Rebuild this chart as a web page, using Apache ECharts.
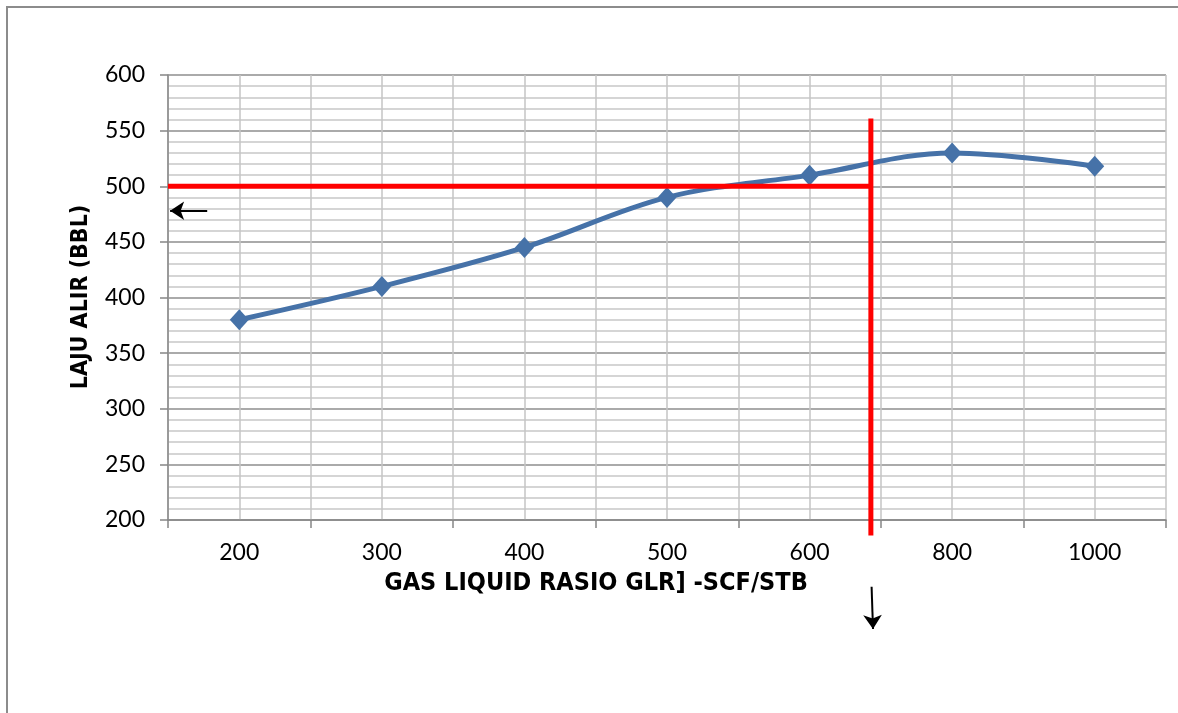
<!DOCTYPE html>
<html>
<head>
<meta charset="utf-8">
<script src="https://cdn.jsdelivr.net/npm/echarts@6/dist/echarts.min.js"></script>
<style>
  html, body { margin: 0; padding: 0; background: #fff; }
  #chart { width: 1178px; height: 713px; }
</style>
</head>
<body>
<div id="chart"></div>
<script>
// Gas liquid ratio (SCF/STB) categories and flow rate (BBL)
const glrCategories = ['200', '300', '400', '500', '600', '800', '1000'];
const flowRates = [380, 410, 445, 490, 510, 530, 518];

// Reading guides, in half-category units along x and BBL along y
const guideRate = 500;
const guideGlrPos = 9.86;
const guideHorizontal = [[0, guideRate], [guideGlrPos + 0.02, guideRate]];
const guideVertical = [[guideGlrPos, 561], [guideGlrPos, 186]];
const arrowLeft = [[0.55, 478], [0.03, 478]];
const arrowDown = [[guideGlrPos + 0.01, 140], [guideGlrPos + 0.03, 102]];

const axisFont = 'Lato, "Noto Sans", sans-serif';
const titleFont = '"DejaVu Sans Condensed", "DejaVu Sans", sans-serif';

const chart = echarts.init(document.getElementById('chart'), null, { renderer: 'canvas' });

chart.setOption({
  animation: false,
  backgroundColor: '#ffffff',
  grid: { left: 168, top: 75, right: 12, bottom: 193, containLabel: false },
  xAxis: [
    {
      type: 'category',
      data: glrCategories,
      boundaryGap: true,
      axisLine: { lineStyle: { color: '#878787', width: 1.5 } },
      axisTick: { show: true, length: 8, lineStyle: { color: '#878787', width: 1.5 } },
      axisLabel: { color: '#000', fontSize: 23, fontFamily: axisFont, margin: 21 },
      splitLine: { show: false }
    },
    {
      type: 'value',
      min: 0, max: 14, interval: 1,
      position: 'bottom',
      axisLine: { show: false },
      axisTick: { show: false },
      axisLabel: { show: false },
      splitLine: { show: true, lineStyle: { color: '#c4c4c4', width: 1.5 } }
    }
  ],
  yAxis: {
    type: 'value',
    min: 200, max: 600, interval: 50,
    axisLine: { show: true, lineStyle: { color: '#878787', width: 1.5 } },
    axisTick: { show: true, length: 8, lineStyle: { color: '#878787', width: 1.5 } },
    axisLabel: { color: '#000', fontSize: 23, fontFamily: axisFont, margin: 23 },
    splitLine: { show: true, lineStyle: { color: '#8e8e8e', width: 1.5 } },
    minorTick: { show: false, splitNumber: 5 },
    minorSplitLine: { show: true, lineStyle: { color: '#c8c8c8', width: 1.5 } }
  },
  graphic: [
    {
      type: 'rect',
      shape: { x: 7, y: 7, width: 1240, height: 800 },
      style: { fill: 'none', stroke: '#8c8c8c', lineWidth: 2 },
      silent: true
    },
    {
      type: 'text',
      x: 596, y: 583,
      style: {
        text: 'GAS LIQUID RASIO GLR] -SCF/STB',
        fill: '#000',
        align: 'center',
        verticalAlign: 'middle',
        font: 'bold 25px ' + titleFont
      }
    },
    {
      type: 'text',
      x: 81, y: 297,
      rotation: Math.PI / 2,
      style: {
        text: 'LAJU ALIR (BBL)',
        fill: '#000',
        align: 'center',
        verticalAlign: 'middle',
        font: 'bold 23px ' + titleFont
      }
    }
  ],
  series: [
    {
      name: 'Laju Alir',
      type: 'line',
      xAxisIndex: 0,
      data: flowRates,
      smooth: 0.35,
      symbol: 'diamond',
      symbolSize: [19, 21],
      lineStyle: { color: '#4672a8', width: 5 },
      itemStyle: { color: '#4672a8' },
      z: 3
    },
    {
      type: 'line',
      xAxisIndex: 1,
      data: guideHorizontal,
      symbol: 'none',
      clip: false,
      lineStyle: { color: '#ff0000', width: 5 },
      z: 4
    },
    {
      type: 'line',
      xAxisIndex: 1,
      data: guideVertical,
      symbol: 'none',
      clip: false,
      lineStyle: { color: '#ff0000', width: 5 },
      z: 4
    },
    {
      type: 'lines',
      coordinateSystem: 'cartesian2d',
      xAxisIndex: 1,
      clip: false,
      symbol: ['none', 'arrow'],
      symbolSize: 14,
      lineStyle: { color: '#000', width: 2, opacity: 1 },
      data: [
        { coords: arrowLeft },
        { coords: arrowDown }
      ],
      z: 5
    }
  ]
});
</script>
</body>
</html>
